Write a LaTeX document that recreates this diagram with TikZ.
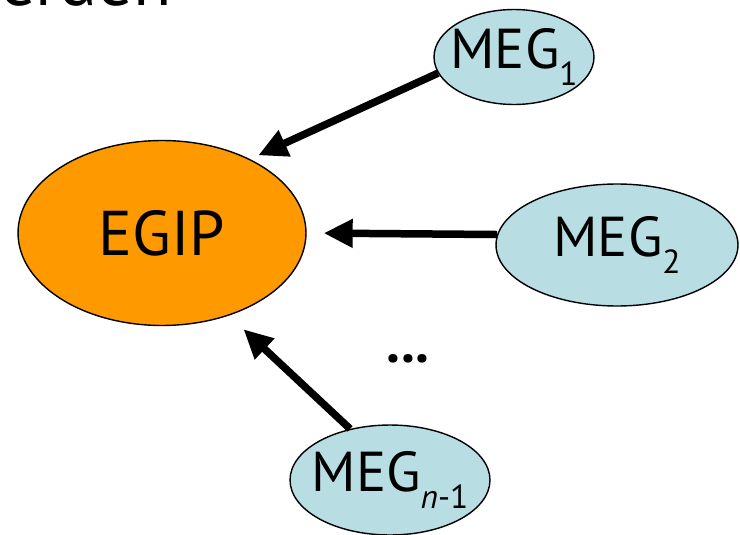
\documentclass[tikz,border=0pt]{standalone}
\usepackage{fontspec}
\setmainfont{PT Sans}
\usetikzlibrary{arrows.meta,positioning,shapes.geometric}
\definecolor{egiporange}{RGB}{255,153,0}
\definecolor{megblue}{RGB}{184,222,227}
\newcommand{\megsub}[1]{\raisebox{-0.3em}{\fontsize{19}{19}\selectfont #1}}

\begin{document}
\begin{tikzpicture}[x=0.02cm,y=-0.02cm,
  blob/.style={ellipse,draw=black,line width=0.8pt,inner sep=0pt},
  megtext/.style={font=\fontsize{32}{38}\selectfont},
  conn/.style={line width=0.15cm,-{Triangle[length=0.58cm,width=0.54cm]}}]
\useasboundingbox (0,0) rectangle (740,534);

\node[anchor=base west,font=\fontsize{40}{46}\selectfont] (title) at (-6,6) {erden};

% the hub
\node[blob,fill=egiporange,minimum width=5.76cm,minimum height=3.7cm,
  font=\fontsize{36}{42}\selectfont] (egip) at (162,233) {EGIP};

% the members
\node[blob,fill=megblue,minimum width=3.2cm,minimum height=1.9cm,
  label={[megtext]center:MEG\megsub{1}}] (meg1) at (514,57) {};
\node[blob,fill=megblue,minimum width=4.84cm,minimum height=2.44cm,
  label={[megtext]center:MEG\megsub{2}}] (meg2) at (617,245) {};
\node[blob,fill=megblue,minimum width=4cm,minimum height=2.2cm,
  label={[megtext]center:MEG\megsub{\textit{n}-1}}] (megn) at (390,480) {};

\node[anchor=base,font=\fontsize{32}{38}\selectfont\bfseries] (dots) at (408,362) {...};

\draw[conn,shorten >=0.18cm] (meg1.192) -- (egip.40);
\draw[conn,shorten >=0.34cm] (meg2.175) -- (egip.east);
\draw[conn,shorten >=0.4cm] (megn.128) -- (egip.309);

\end{tikzpicture}
\end{document}
